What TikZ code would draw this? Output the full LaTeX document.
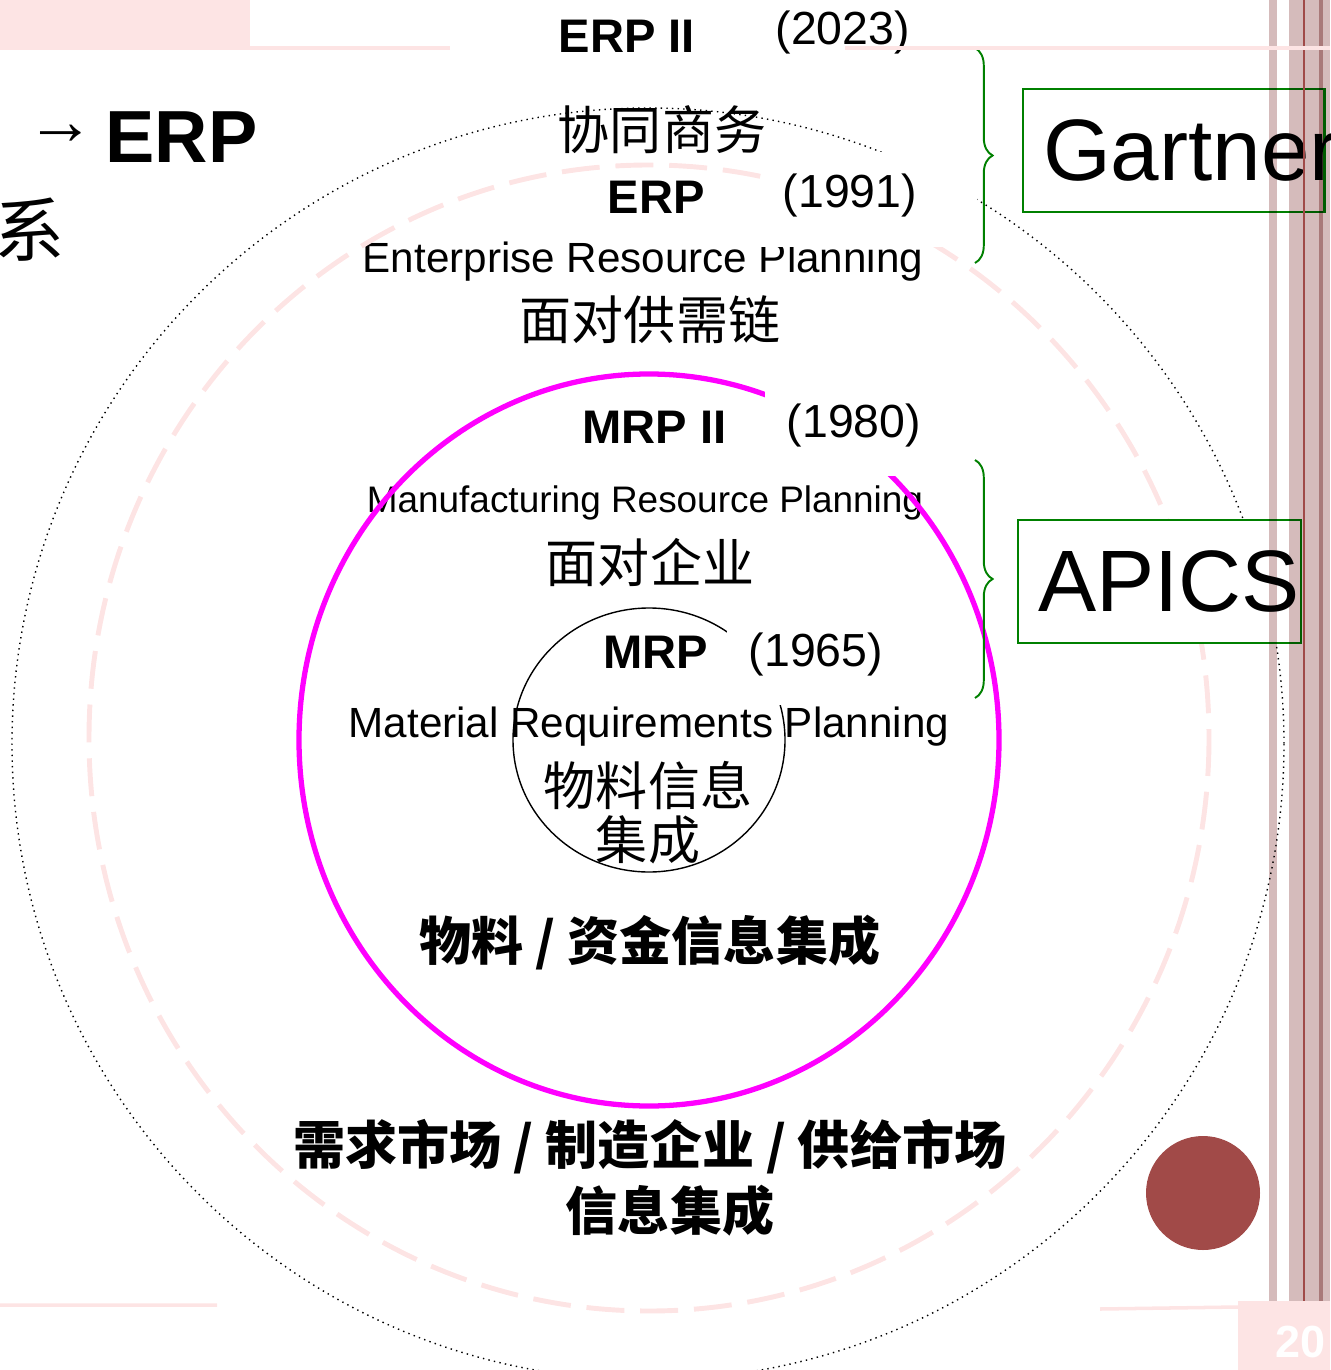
\documentclass[tikz,border=0pt]{standalone}
\usepackage{fontspec}
\setmainfont{Liberation Sans}
\newfontfamily\cjk{Noto Sans CJK SC}
\usetikzlibrary{decorations.pathreplacing}
\definecolor{pinkbg}{RGB}{253,228,228}
\definecolor{stripe}{RGB}{213,187,187}
\definecolor{stripedk}{RGB}{203,166,166}
\definecolor{redln}{RGB}{160,74,72}
\definecolor{ball}{RGB}{161,74,72}
\definecolor{grn}{RGB}{0,128,0}
\definecolor{mag}{RGB}{255,0,255}

\begin{document}
\begin{tikzpicture}[x=0.01cm,y=-0.01cm]
  \tikzset{every node/.style={inner sep=0pt},
    head/.style={font=\fontsize{13.4}{16}\selectfont\bfseries,anchor=base west},
    yr/.style={font=\fontsize{13.2}{16}\selectfont,anchor=base west},
    yrbox/.style={yr,fill=white,text height=10.2pt,text depth=5.4pt,inner xsep=6.3pt,inner ysep=5.7pt,text width=49pt,align=left},
    en/.style={font=\fontsize{12}{14}\selectfont,anchor=base},
    cn/.style={font=\cjk\fontsize{14.8}{17}\selectfont},
    cnb/.style={font=\cjk\bfseries\fontsize{14.8}{17}\selectfont},
    tag/.style={draw=grn,line width=0.6pt,fill=white,anchor=north west,minimum height=35pt,inner xsep=5.7pt,align=left,font=\fontsize{24.8}{28}\selectfont},
    brc/.style={draw=grn,line width=0.55pt,decorate,decoration={brace,amplitude=5pt}},
    outerring/.style={line width=0.4pt,dash pattern=on 0.4pt off 1.2pt},
    erpring/.style={draw=pinkbg,line width=1.4pt,dash pattern=on 10.8pt off 4.5pt},
    mrptworing/.style={draw=mag,line width=1.5pt},
    mrpring/.style={line width=0.4pt}}
  \useasboundingbox (0,0) rectangle (1330,1370);
  \clip (0,0) rectangle (1330,1370);

  % slide background
  \fill[pinkbg] (0,0) rectangle (250,46);
  \draw[pinkbg,line width=1pt] (0,48) -- (450,48);
  \draw[pinkbg,line width=1pt] (0,1305) -- (217,1305) (1100,1309) -- (1238,1307);
  \fill[ball] (1203,1193) circle [radius=57];

  \node[font=\fontsize{19.5}{22}\selectfont] (arr) at (61,135) {→};
  \node[font=\fontsize{21}{24}\selectfont\bfseries,anchor=base west] (lerp) at (105,163) {ERP};
  \node[font=\cjk\fontsize{20}{22}\selectfont] (xi) at (30,230) {系};

  \node[head] (erp2) at (558,53) {ERP II};
  \node[yr] (y2023) at (775,45) {(2023)};
  \node[cn] (xtsw) at (662,130) {协同商务};
  \node[head] (erp) at (607,214) {ERP};
  \node[en] (ent) at (643,273) {Enterprise Resource Planning};
  \node[cn] (gxl) at (650,320) {面对供需链};
  \node[head] (mrp2) at (582,443) {MRP II};
  \node[en,font=\fontsize{10.5}{12}\selectfont] (manu) at (645,512) {Manufacturing Resource Planning};
  \node[cn] (qy) at (650,562) {面对企业};
  \node[head] (mrp) at (603,668) {MRP};
  \node[en] (mat) at (649,737) {Material Requirements Planning};
  \node[cn,align=center,font=\cjk\fontsize{14.8}{15.4}\selectfont] (wlxx) at (648,813) {物料信息\\集成};
  \node[cnb] (wlzj) at (650,943) {物料 / 资金信息集成};
  \node[cnb] (sczz) at (650,1147) {需求市场 / 制造企业 / 供给市场};
  \node[cnb] (xxjc) at (670,1211) {信息集成};

  % rings
  \draw[outerring] (648,744) circle [radius=636];
  \draw[erpring] (649,738) ellipse [x radius=560,y radius=573];
  \draw[mrptworing] (649,740) ellipse [x radius=350,y radius=366];
  \draw[mrpring] (649,740) ellipse [x radius=136,y radius=132];

  \node[yrbox] (y1991) at (760,208) {(1991)};
  \node[yrbox] (y1980) at (764,437) {(1980)};
  \node[yrbox] (y1965) at (726,666) {(1965)};

  \coordinate (b1) at (975,48);
  \coordinate (b2) at (975,263);
  \coordinate (b3) at (975,460);
  \coordinate (b4) at (975,698);
  \draw[brc] (b1) -- (b2);
  \draw[brc] (b3) -- (b4);

  \node[tag,text width=74.3pt] (gart) at (1022,88) {Gartner};
  \node[tag,text width=69.1pt] (apics) at (1017,519) {APICS};

  % stripes on the right
  \begin{scope}[blend mode=multiply]
    \fill[stripe] (1269,0) rectangle (1277,1301);
    \fill[stripe] (1289,0) rectangle (1330,1301);
    \fill[stripedk] (1319,0) rectangle (1323,1301);
  \end{scope}
  \fill[redln] (1303,0) rectangle (1305,1301);
  \draw[pinkbg,line width=1pt] (845,48) -- (1330,48);
  \fill[pinkbg] (1238,1301) rectangle (1330,1370);
  \node[font=\fontsize{12.8}{15}\selectfont\bfseries,text=white,anchor=base east] (pg) at (1326,1357) {20};
\end{tikzpicture}
\end{document}
